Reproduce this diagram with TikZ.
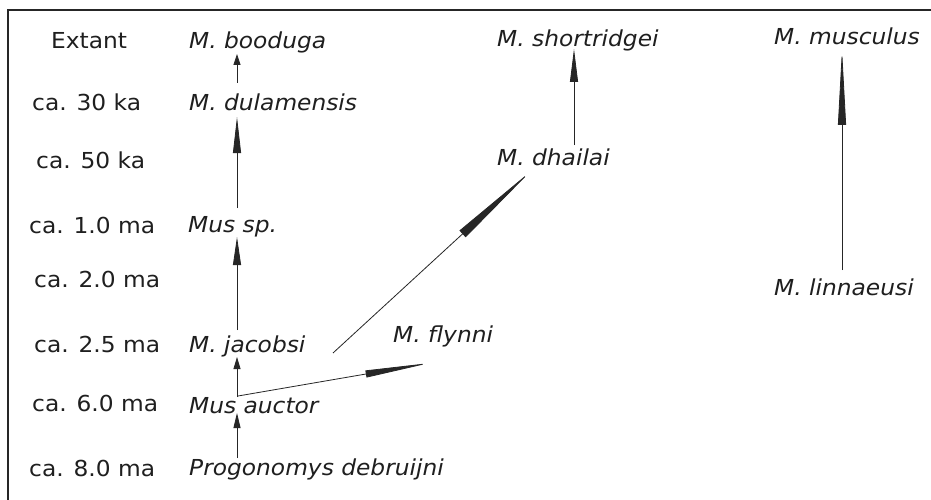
\documentclass[tikz,border=0pt]{standalone}
\usepackage{fontspec}
\setmainfont{DejaVu Sans}[FakeStretch=1.06, ItalicFont=* Oblique]
\usetikzlibrary{arrows.meta}
\tikzset{
  lab/.style={anchor=base west, inner sep=0pt, text=black!88, font=\fontsize{22}{26}\selectfont},
  sp/.style={lab, font=\fontsize{22}{26}\selectfont\itshape},
  conn/.style={draw=black!85, line width=0.8pt},
  tip/.style 2 args={conn, -{Triangle[length=#1pt, width=#2pt]}},
  frame/.style={draw=black!85, line width=2pt}
}
\begin{document}
\begin{tikzpicture}[x=1pt, y=-1pt]
\useasboundingbox (0,0) rectangle (931,500);
\fill[white] (0,0) rectangle (931,500);
\coordinate (ftop) at (931,10);
\coordinate (fcorner) at (8,10);
\coordinate (fbot) at (8,500);
\draw[frame] (ftop) -- (fcorner) -- (fbot);
% time labels
\node[lab] (t0) at (51,49) {Extant};
\node[lab] (t1) at (32,111) {ca. 30 ka};
\node[lab] (t2) at (36,168) {ca. 50 ka};
\node[lab] (t3) at (29,233) {ca. 1.0 ma};
\node[lab] (t4) at (34,287) {ca. 2.0 ma};
\node[lab] (t5) at (34,352) {ca. 2.5 ma};
\node[lab] (t6) at (32,411) {ca. 6.0 ma};
\node[lab] (t7) at (29,476) {ca. 8.0 ma};
% species
\node[sp] (boo) at (189,49) {M. booduga};
\node[sp] (dul) at (189,111) {M. dulamensis};
\node[sp] (msp) at (188,232) {Mus sp.};
\node[sp] (jac) at (189,352) {M. jacobsi};
\node[sp] (auc) at (189,413) {Mus auctor};
\node[sp] (pro) at (189,475) {Progonomys debruijni};
\node[sp] (sho) at (497,47) {M. shortridgei};
\node[sp] (dha) at (497,165) {M. dhailai};
\node[sp] (mus) at (774,45) {M. musculus};
\node[sp] (lin) at (774,295) {M. linnaeusi};
\node[sp] (fly) at (393,342) {M. flynni};
% connectors
\draw[tip={11}{7}] ([shift={(48,-28)}]dul.base west) -- ([shift={(48,5)}]boo.base west);
\draw[tip={36}{8}] ([shift={(49,-24)}]msp.base west) -- ([shift={(48,6)}]dul.base west);
\draw[tip={28}{8}] ([shift={(48,-22)}]jac.base west) -- ([shift={(49,5)}]msp.base west);
\draw[tip={12}{7}] ([shift={(48,-16)}]auc.base west) -- ([shift={(48,5)}]jac.base west);
\draw[tip={15}{7}] ([shift={(48,-17)}]pro.base west) -- ([shift={(48,0)}]auc.base west);
\draw[tip={65}{7}] ([shift={(49,-17)}]auc.base west) -- ([shift={(37,21)}]fly.base west);
\draw[tip={93}{9}] ([shift={(144,1)}]jac.base west) -- ([shift={(34,6)}]dha.base west);
\draw[tip={33}{8}] ([shift={(77,-20)}]dha.base west) -- ([shift={(77,2)}]sho.base west);
\draw[tip={76}{8}] ([shift={(68,-25)}]lin.base west) -- ([shift={(68,4)}]mus.base west);
\end{tikzpicture}
\end{document}
